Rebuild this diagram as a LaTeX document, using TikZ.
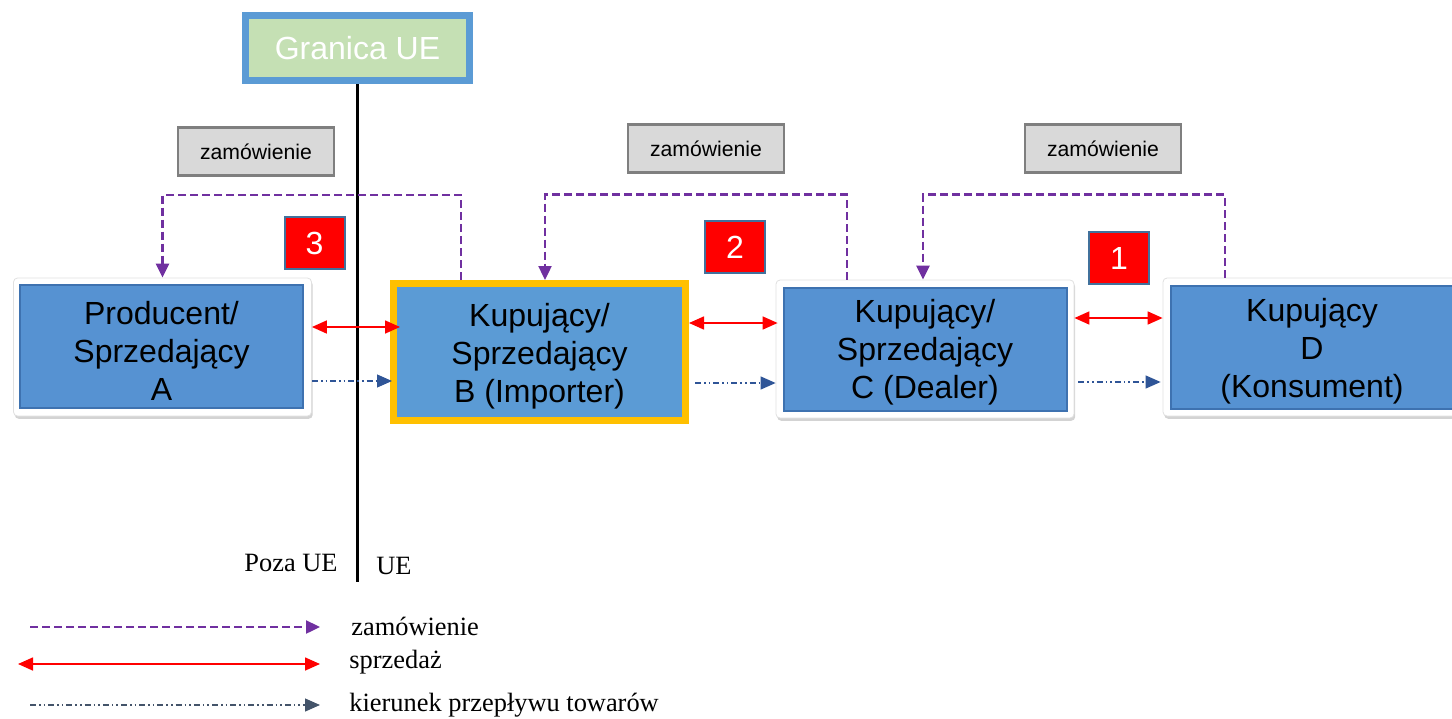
\documentclass[tikz,border=0pt]{standalone}
\usepackage{fontspec}
\setmainfont{Liberation Serif}
\newfontfamily\arialf{Liberation Sans}
\usetikzlibrary{arrows.meta,shadows}
\definecolor{boxblue}{RGB}{86,146,210}
\definecolor{bblue}{HTML}{5B9BD5}
\definecolor{bevel}{RGB}{62,114,176}
\definecolor{gold}{HTML}{FFC000}
\definecolor{ordpurple}{HTML}{7030A0}
\definecolor{flowblue}{HTML}{2F5597}
\definecolor{legblue}{HTML}{44546A}
\definecolor{numedge}{HTML}{41719C}
\definecolor{grayfill}{HTML}{D9D9D9}
\definecolor{grayedge}{HTML}{7F7F7F}
\definecolor{greenfill}{HTML}{C5E0B4}
\tikzset{
  frame/.style={fill=white, draw=black!12, line width=0.4pt, rounded corners=2pt, inner sep=0pt,
    minimum width=149pt, minimum height=69pt,
    drop shadow={opacity=0.35, shadow xshift=0.6pt, shadow yshift=-1.4pt}},
  mainbox/.style={fill=boxblue, draw=bevel, line width=1pt, inner sep=0pt,
    minimum width=141.5pt, minimum height=61.5pt},
  maintext/.style={inner sep=0pt, align=center,
    font=\arialf\fontsize{16}{19}\selectfont},
  ordbox/.style={fill=grayfill, draw=grayedge, line width=1.2pt, inner sep=0pt,
    minimum width=78pt, minimum height=24pt, font=\arialf\fontsize{10.6}{12}\selectfont},
  numbox/.style={fill=red, draw=numedge, line width=1pt, inner sep=0pt,
    minimum width=30pt, minimum height=26pt, text=white,
    font=\arialf\fontsize{16}{18}\selectfont},
  order/.style={ordpurple, line width=1.2pt, dash pattern=on 4pt off 2pt,
    -{Triangle[length=7pt,width=6.5pt]}},
  sale/.style={red, line width=0.8pt,
    {Triangle[length=7.5pt,width=6.5pt]}-{Triangle[length=7.5pt,width=6.5pt]}},
  flow/.style={flowblue, line width=0.6pt,
    dash pattern=on 3pt off 1.5pt on 0.8pt off 1.5pt on 0.8pt off 1.5pt,
    -{Triangle[length=7.5pt,width=6.5pt]}},
  legtext/.style={anchor=west, inner sep=0pt, font=\fontsize{13.2}{15}\selectfont}
}
\begin{document}
\begin{tikzpicture}[x=0.5pt,y=-0.5pt]
\useasboundingbox (0,0) rectangle (1452,718);

% EU border
\node[fill=greenfill, draw=bblue, line width=3.5pt, inner sep=0pt,
  minimum width=112pt, minimum height=32.5pt, text=white,
  font=\arialf\fontsize{16}{19}\selectfont] (G) at (357.5,48) {Granica UE};
\coordinate (vb) at (357.5,582);
\draw[black, line width=1.5pt] (G.south) -- (vb);
\node[inner sep=0pt, font=\fontsize{13.2}{15}\selectfont] (poza) at (291,563) {Poza UE};
\node[inner sep=0pt, font=\fontsize{13.2}{15}\selectfont] (ue) at (394,566) {UE};

% order labels
\node[ordbox] (z1) at (256,151.5) {zamówienie};
\node[ordbox] (z2) at (706,148.5) {zamówienie};
\node[ordbox] (z3) at (1103,148.5) {zamówienie};

% number boxes
\node[numbox] (n3) at (314.5,243) {3};
\node[numbox] (n2) at (735,247) {2};
\node[numbox] (n1) at (1119,258) {1};

% main boxes
\node[frame] (fA) at (162.5,347) {};
\node[mainbox] (bA) at (161.5,346.5) {};
\node[maintext] (tA) at (161.5,351) {Producent/\\Sprzedający\\A};

\node[fill=bblue, draw=gold, line width=3.5pt, inner sep=0pt,
  minimum width=146pt, minimum height=68.5pt] (B) at (539.5,352) {};
\node[maintext] (tB) at (539.5,356) {Kupujący/\\Sprzedający\\B (Importer)};

\node[frame] (fC) at (925,349) {};
\node[mainbox] (bC) at (925,349) {};
\node[maintext] (tC) at (925,352.5) {Kupujący/\\Sprzedający\\C (Dealer)};

\node[frame] (fD) at (1312,347) {};
\node[mainbox] (bD) at (1312,347) {};
\node[maintext] (tD) at (1312,351.5) {Kupujący\\D\\(Konsument)};

% orders (purple dashed)
\draw[order] ([xshift=-39.25pt]B.north) -- ++(0,-85) -| (fA.north);
\draw[order] ([xshift=-39pt]fC.north) -- ++(0,-85) -| ([xshift=2.75pt]B.north);
\draw[order] ([xshift=-43.5pt]fD.north) -- ++(0,-83) -| ([xshift=-1pt]fC.north);

% sales (red)
\draw[sale] ([yshift=10pt]fA.east) -- ([xshift=5pt,yshift=12.5pt]B.west);
\draw[sale] ([yshift=14.5pt]B.east) -- ([xshift=1pt,yshift=13pt]fC.west);
\draw[sale] ([yshift=15.5pt]fC.east) -- ([yshift=14.5pt]fD.west);

% goods flow (blue dash-dot)
\draw[flow] ([yshift=-17pt]fA.east) -- ([xshift=1pt,yshift=-14.5pt]B.west);
\draw[flow] ([xshift=3pt,yshift=-15.5pt]B.east) -- ([yshift=-17pt]fC.west);
\draw[flow] ([xshift=2pt,yshift=-16.5pt]fC.east) -- ([xshift=-1pt,yshift=-17.5pt]fD.west);

% legend
\coordinate (l1a) at (30,627); \coordinate (l1b) at (320,627);
\coordinate (l2a) at (18,664); \coordinate (l2b) at (320,664);
\coordinate (l3a) at (30,705); \coordinate (l3b) at (320,705);
\draw[order] (l1a) -- (l1b);
\draw[sale] (l2a) -- (l2b);
\draw[flow, legblue] (l3a) -- (l3b);
\node[legtext] (t1) at (351,626) {zamówienie};
\node[legtext] (t2) at (349,662) {sprzedaż};
\node[legtext] (t3) at (349,705) {kierunek przepływu towarów};
\end{tikzpicture}
\end{document}
